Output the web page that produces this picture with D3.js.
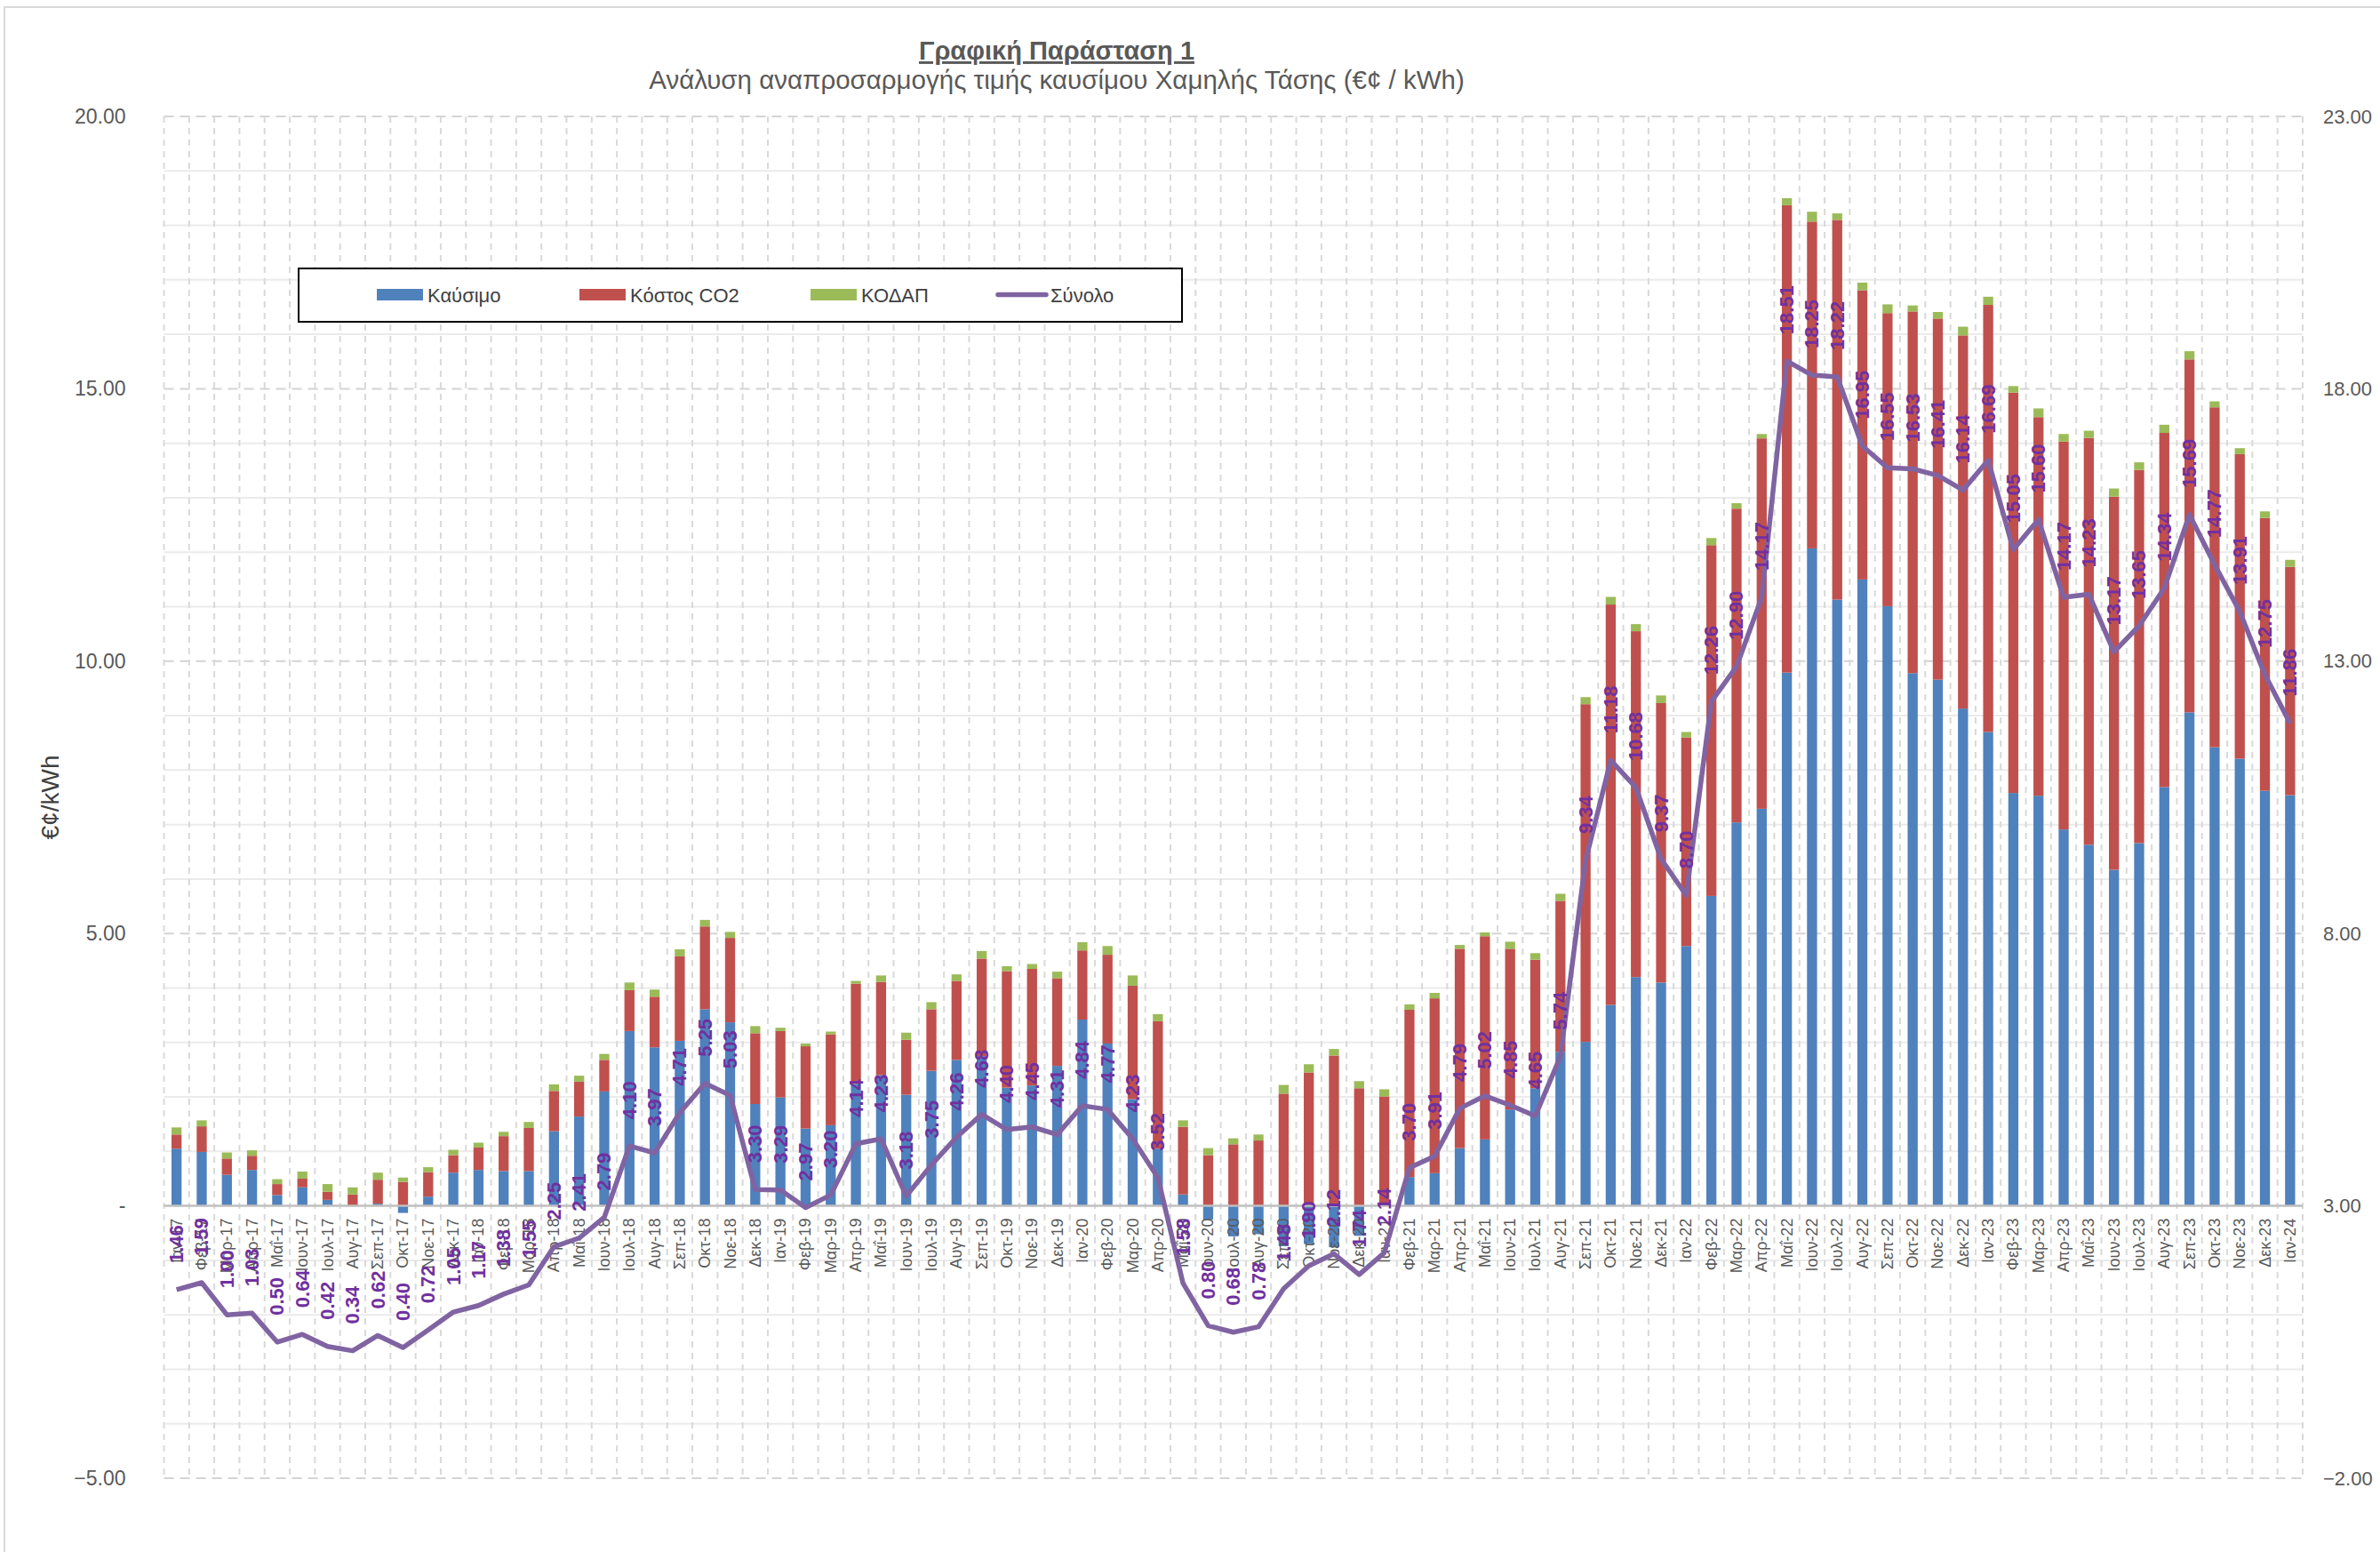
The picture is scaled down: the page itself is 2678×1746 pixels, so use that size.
<!DOCTYPE html>
<html>
<head>
<meta charset="utf-8">
<script src="https://cdn.jsdelivr.net/npm/d3@7/dist/d3.min.js"></script>
<style>
  body { margin: 0; background: #fff; }
  text { font-family: "Liberation Sans", Arial, sans-serif; }
</style>
</head>
<body>
<svg id="chart" width="2678" height="1746"></svg>
<script>
const months = [
  'Ιαν-17','Φεβ-17','Μαρ-17','Απρ-17','Μαΐ-17','Ιουν-17','Ιουλ-17','Αυγ-17','Σεπ-17','Οκτ-17','Νοε-17','Δεκ-17',
  'Ιαν-18','Φεβ-18','Μαρ-18','Απρ-18','Μαΐ-18','Ιουν-18','Ιουλ-18','Αυγ-18','Σεπ-18','Οκτ-18','Νοε-18','Δεκ-18',
  'Ιαν-19','Φεβ-19','Μαρ-19','Απρ-19','Μαΐ-19','Ιουν-19','Ιουλ-19','Αυγ-19','Σεπ-19','Οκτ-19','Νοε-19','Δεκ-19',
  'Ιαν-20','Φεβ-20','Μαρ-20','Απρ-20','Μαΐ-20','Ιουν-20','Ιουλ-20','Αυγ-20','Σεπ-20','Οκτ-20','Νοε-20','Δεκ-20',
  'Ιαν-21','Φεβ-21','Μαρ-21','Απρ-21','Μαΐ-21','Ιουν-21','Ιουλ-21','Αυγ-21','Σεπ-21','Οκτ-21','Νοε-21','Δεκ-21',
  'Ιαν-22','Φεβ-22','Μαρ-22','Απρ-22','Μαΐ-22','Ιουν-22','Ιουλ-22','Αυγ-22','Σεπ-22','Οκτ-22','Νοε-22','Δεκ-22',
  'Ιαν-23','Φεβ-23','Μαρ-23','Απρ-23','Μαΐ-23','Ιουν-23','Ιουλ-23','Αυγ-23','Σεπ-23','Οκτ-23','Νοε-23','Δεκ-23',
  'Ιαν-24'
];

// Καύσιμο
const fuel = [
  1.05, 0.99, 0.57, 0.66, 0.20, 0.34, 0.11, 0.00, 0.04, -0.13, 0.17, 0.61,
  0.66, 0.64, 0.64, 1.37, 1.64, 2.10, 3.21, 2.91, 3.03, 3.61, 3.37, 1.87,
  1.99, 1.42, 1.48, 2.24, 2.40, 2.04, 2.48, 2.68, 2.75, 2.17, 2.21, 2.57,
  3.42, 2.98, 1.96, 1.05, 0.21, -0.25, -0.56, -0.52, -0.74, -0.70, -0.76, -0.55,
  0.00, 0.53, 0.60, 1.06, 1.22, 1.77, 2.16, 2.83, 3.01, 3.69, 4.20, 4.10,
  4.77, 5.69, 7.04, 7.29, 9.79, 12.07, 11.13, 11.50, 11.01, 9.78, 9.66, 9.13,
  8.70, 7.58, 7.53, 6.91, 6.63, 6.17, 6.66, 7.69, 9.06, 8.42, 8.21, 7.62,
  7.54
];

// Κόστος CO2
const co2 = [
  0.26, 0.47, 0.30, 0.26, 0.20, 0.16, 0.15, 0.21, 0.44, 0.44, 0.45, 0.32,
  0.41, 0.64, 0.79, 0.74, 0.64, 0.58, 0.75, 0.93, 1.55, 1.52, 1.55, 1.30,
  1.22, 1.51, 1.67, 1.84, 1.71, 1.01, 1.13, 1.45, 1.79, 2.14, 2.14, 1.61,
  1.27, 1.63, 2.08, 2.34, 1.24, 0.93, 1.13, 1.20, 2.06, 2.45, 2.76, 2.16,
  2.01, 3.07, 3.21, 3.66, 3.73, 2.95, 2.36, 2.77, 6.20, 7.35, 6.35, 5.13,
  3.83, 6.44, 5.76, 6.80, 8.58, 6.00, 6.97, 5.31, 5.38, 6.64, 6.63, 6.85,
  7.84, 7.35, 6.95, 7.12, 7.47, 6.85, 6.85, 6.50, 6.48, 6.24, 5.59, 5.01,
  4.19
];

// ΚΟΔΑΠ
const kodap = [
  0.13, 0.11, 0.11, 0.10, 0.09, 0.13, 0.14, 0.13, 0.13, 0.08, 0.09, 0.10,
  0.09, 0.08, 0.11, 0.12, 0.11, 0.11, 0.14, 0.13, 0.13, 0.12, 0.11, 0.13,
  0.06, 0.05, 0.05, 0.05, 0.12, 0.13, 0.13, 0.12, 0.14, 0.09, 0.09, 0.12,
  0.15, 0.16, 0.19, 0.13, 0.12, 0.13, 0.11, 0.11, 0.16, 0.15, 0.12, 0.13,
  0.13, 0.10, 0.10, 0.07, 0.07, 0.13, 0.12, 0.13, 0.13, 0.14, 0.13, 0.14,
  0.10, 0.13, 0.10, 0.08, 0.13, 0.18, 0.12, 0.14, 0.16, 0.11, 0.12, 0.16,
  0.15, 0.12, 0.16, 0.14, 0.13, 0.15, 0.14, 0.15, 0.15, 0.11, 0.11, 0.12,
  0.13
];

// Σύνολο (secondary axis)
const total = [
  1.46, 1.59, 1.00, 1.03, 0.50, 0.64, 0.42, 0.34, 0.62, 0.40, 0.72, 1.05,
  1.17, 1.38, 1.55, 2.25, 2.41, 2.79, 4.10, 3.97, 4.71, 5.25, 5.03, 3.30,
  3.29, 2.97, 3.20, 4.14, 4.23, 3.18, 3.75, 4.26, 4.68, 4.40, 4.45, 4.31,
  4.84, 4.77, 4.23, 3.52, 1.58, 0.80, 0.68, 0.78, 1.48, 1.90, 2.12, 1.74,
  2.14, 3.70, 3.91, 4.79, 5.02, 4.85, 4.65, 5.74, 9.34, 11.18, 10.68, 9.37,
  8.70, 12.26, 12.90, 14.17, 18.51, 18.25, 18.22, 16.95, 16.55, 16.53, 16.41, 16.14,
  16.69, 15.05, 15.60, 14.17, 14.23, 13.17, 13.65, 14.34, 15.69, 14.77, 13.91, 12.75,
  11.86
];

const seriesNames = ['Καύσιμο', 'Κόστος CO2', 'ΚΟΔΑΠ'];
const lineName = 'Σύνολο';
const leftTicks = [-5, 0, 5, 10, 15, 20];
const rightTicks = [-2, 3, 8, 13, 18, 23];

const colors = ['#4F81BD', '#C0504D', '#9BBB59'];
const lineColor = '#8064A2';
const labelColor = '#7030A0';

const svg = d3.select('#chart');
const W = 2678, H = 1746;
const plot = {left: 184.5, right: 2591, top: 131, bottom: 1663};

svg.append('rect').attr('width', W).attr('height', H).attr('fill', '#fff');
svg.append('rect').attr('x', 5).attr('y', 8).attr('width', W + 10).attr('height', H + 10)
  .attr('fill', 'none').attr('stroke', '#D9D9D9').attr('stroke-width', 2);

const x = d3.scaleBand().domain(months).range([plot.left, plot.right])
  .paddingInner(0.6).paddingOuter(0.3);
const step = x.step();
const yL = d3.scaleLinear().domain([-5, 20]).range([plot.bottom, plot.top]);
const yR = d3.scaleLinear().domain([-2, 23]).range([plot.bottom, plot.top]);

// gridlines
const grid = svg.append('g');
d3.range(-5, 21, 1).filter(v => v % 5 !== 0).forEach(v => {
  grid.append('line').attr('x1', plot.left).attr('x2', plot.right)
    .attr('y1', yL(v)).attr('y2', yL(v))
    .attr('stroke', '#EBEBEB').attr('stroke-width', 2);
});
leftTicks.filter(v => v !== 0).forEach(v => {
  grid.append('line').attr('x1', plot.left).attr('x2', plot.right)
    .attr('y1', yL(v)).attr('y2', yL(v))
    .attr('stroke', '#D4D4D4').attr('stroke-width', 2).attr('stroke-dasharray', '11,7');
});
months.concat([null]).forEach((m, i) => {
  const xx = plot.left + i * step;
  grid.append('line').attr('x1', xx).attr('x2', xx)
    .attr('y1', plot.top).attr('y2', plot.bottom)
    .attr('stroke', '#D9D9D9').attr('stroke-width', 2).attr('stroke-dasharray', '7,6');
});

// stacked bars
const rows = months.map((m, i) => ({m, a: fuel[i], b: co2[i], c: kodap[i]}));
const stack = d3.stack().keys(['a', 'b', 'c']).offset(d3.stackOffsetDiverging);
const layers = stack(rows);

svg.append('g').selectAll('g').data(layers).join('g')
  .attr('fill', (d, i) => colors[i])
  .selectAll('rect').data(d => d).join('rect')
  .attr('x', d => x(d.data.m))
  .attr('width', x.bandwidth())
  .attr('y', d => yL(Math.max(d[0], d[1])))
  .attr('height', d => Math.abs(yL(d[0]) - yL(d[1])));

// zero axis line
svg.append('line').attr('x1', plot.left).attr('x2', plot.right)
  .attr('y1', yL(0)).attr('y2', yL(0))
  .attr('stroke', '#BFBFBF').attr('stroke-width', 2.5);

// category labels
svg.append('g').selectAll('text').data(months).join('text')
  .attr('transform', d => `translate(${x(d) + x.bandwidth() / 2},${yL(0) + 14}) rotate(-90)`)
  .attr('text-anchor', 'end').attr('dominant-baseline', 'central')
  .attr('font-size', 18).attr('fill', '#595959')
  .text(d => d);

// total line
const line = d3.line()
  .x((d, i) => x(months[i]) + x.bandwidth() / 2)
  .y(d => yR(d));
svg.append('path').datum(total)
  .attr('d', line).attr('fill', 'none')
  .attr('stroke', lineColor).attr('stroke-width', 5.5)
  .attr('stroke-linejoin', 'round');

// line labels
svg.append('g').selectAll('text').data(total).join('text')
  .attr('transform', (d, i) => `translate(${x(months[i]) + x.bandwidth() / 2},${yR(d) - 30}) rotate(-90)`)
  .attr('text-anchor', 'start').attr('dominant-baseline', 'central')
  .attr('font-size', 22).attr('font-weight', 'bold').attr('fill', labelColor)
  .text(d => d.toFixed(2));

// axes
const leftAxis = svg.append('g').attr('transform', `translate(${plot.left - 40},0)`)
  .call(d3.axisLeft(yL).tickValues(leftTicks).tickSize(0)
    .tickFormat(d => d === 0 ? '-' : d3.format('.2f')(d)));
const rightAxis = svg.append('g').attr('transform', `translate(${plot.right + 20},0)`)
  .call(d3.axisRight(yR).tickValues(rightTicks).tickSize(0).tickFormat(d3.format('.2f')));
[leftAxis, rightAxis].forEach(a => {
  a.select('.domain').remove();
  a.selectAll('text').attr('font-size', 22).attr('fill', '#595959')
    .attr('font-family', '"Liberation Sans", Arial, sans-serif');
});
leftAxis.selectAll('text').attr('font-size', 23);

svg.append('text')
  .attr('transform', 'translate(56,897) rotate(-90)')
  .attr('text-anchor', 'middle').attr('dominant-baseline', 'central')
  .attr('font-size', 28).attr('fill', '#404040').text('€¢/kWh');

// titles
svg.append('text').attr('x', 1189).attr('y', 67).attr('text-anchor', 'middle')
  .attr('font-size', 29).attr('font-weight', 'bold').attr('fill', '#595959')
  .attr('text-decoration', 'underline').text('Γραφική Παράσταση 1');
svg.append('text').attr('x', 1189).attr('y', 100).attr('text-anchor', 'middle')
  .attr('font-size', 29.5).attr('fill', '#595959')
  .text('Ανάλυση αναπροσαρμογής τιμής καυσίμου Χαμηλής Τάσης (€¢ / kWh)');

// legend
const lg = svg.append('g');
lg.append('rect').attr('x', 336).attr('y', 302).attr('width', 994).attr('height', 60)
  .attr('fill', '#fff').attr('stroke', '#000').attr('stroke-width', 2);
const legendX = [424, 652, 912];
seriesNames.forEach((n, i) => {
  lg.append('rect').attr('x', legendX[i]).attr('y', 325).attr('width', 52).attr('height', 13)
    .attr('fill', colors[i]);
  lg.append('text').attr('x', legendX[i] + 57).attr('y', 332)
    .attr('dominant-baseline', 'central').attr('font-size', 22).attr('fill', '#404040').text(n);
});
lg.append('line').attr('x1', 1123).attr('x2', 1177).attr('y1', 331.5).attr('y2', 331.5)
  .attr('stroke', lineColor).attr('stroke-width', 5.5).attr('stroke-linecap', 'round');
lg.append('text').attr('x', 1182).attr('y', 332)
  .attr('dominant-baseline', 'central').attr('font-size', 22).attr('fill', '#404040').text(lineName);
</script>
</body>
</html>
